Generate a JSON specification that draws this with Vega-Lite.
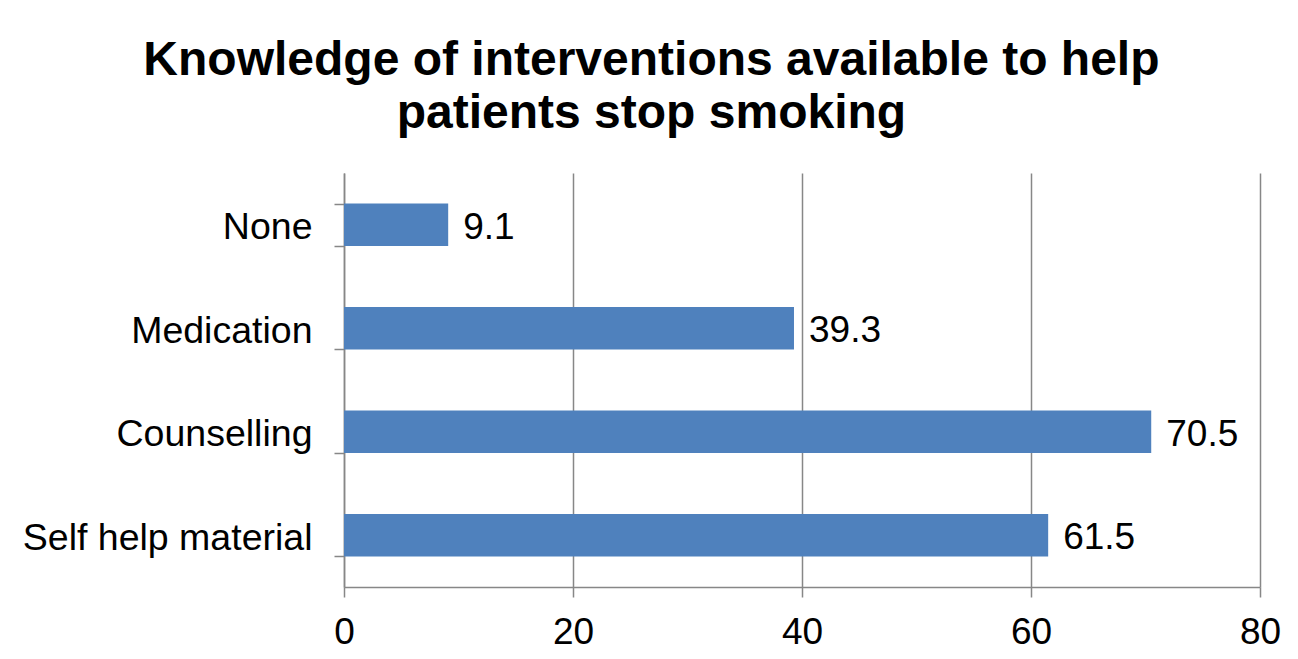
{
  "$schema": "https://vega.github.io/schema/vega-lite/v6.json",
  "width": 916,
  "height": 414,
  "autosize": {"type": "none"},
  "padding": {"left": 344, "top": 173, "right": 38, "bottom": 72},
  "background": "white",
  "title": {
    "text": ["Knowledge of interventions available to help", "patients stop smoking"],
    "font": "Liberation Sans",
    "fontSize": 48,
    "fontWeight": "bold",
    "color": "black",
    "lineHeight": 53,
    "anchor": "middle",
    "frame": "bounds",
    "offset": 16
  },
  "config": {
    "view": {"stroke": null},
    "font": "Liberation Sans"
  },
  "data": {
    "values": [
      {"category": "None", "value": 9.1},
      {"category": "Medication\u00a0", "value": 39.3},
      {"category": "Counselling", "value": 70.5},
      {"category": "Self help material", "value": 61.5}
    ]
  },
  "encoding": {
    "y": {
      "field": "category",
      "type": "nominal",
      "sort": null,
      "scale": {"paddingInner": 0.59, "paddingOuter": 0.295},
      "axis": {
        "title": null,
        "tickBand": "extent",
        "labelFont": "Liberation Sans",
        "labelFontSize": 37.5,
        "labelColor": "black",
        "labelPadding": 22,
        "labelOffset": 3,
        "labelLimit": 0,
        "tickSize": 10,
        "tickColor": "#878787",
        "tickWidth": 1.5,
        "domainColor": "#878787",
        "domainWidth": 1.5,
        "grid": false
      }
    },
    "x": {
      "field": "value",
      "type": "quantitative",
      "scale": {"domain": [0, 80]},
      "axis": {
        "title": null,
        "values": [0, 20, 40, 60, 80],
        "labelFont": "Liberation Sans",
        "labelFontSize": 37,
        "labelColor": "black",
        "labelPadding": 17,
        "tickSize": 10,
        "tickColor": "#878787",
        "tickWidth": 1.5,
        "domainColor": "#878787",
        "domainWidth": 1.5,
        "grid": true,
        "gridColor": "#878787",
        "gridWidth": 1.5,
        "labelFlush": false
      }
    }
  },
  "layer": [
    {"mark": {"type": "bar", "color": "#4F81BD"}},
    {
      "mark": {"type": "text", "align": "left", "baseline": "middle", "dx": 15, "dy": 3, "fontSize": 37, "font": "Liberation Sans", "color": "black"},
      "encoding": {"text": {"field": "value", "type": "quantitative", "format": ".1f"}}
    }
  ]
}
